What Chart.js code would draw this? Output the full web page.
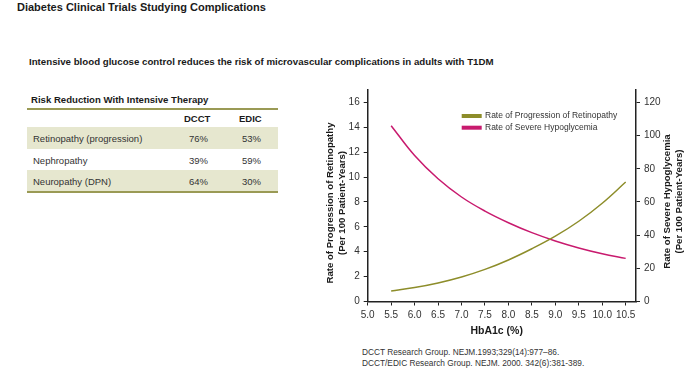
<!DOCTYPE html>
<html>
<head>
<meta charset="utf-8">
<script src="https://cdn.jsdelivr.net/npm/chart.js@4.4.0/dist/chart.umd.min.js"></script>
<style>
  body { margin: 0; width: 700px; height: 375px; background: #fff; position: relative; overflow: hidden;
         font-family: "Liberation Sans", Arial, sans-serif; color: #1a1a1a; }
  .title { position: absolute; left: 17px; top: 1px; font-size: 11px; font-weight: bold; }
  .subtitle { position: absolute; left: 29px; top: 56px; font-size: 9.7px; font-weight: bold; }
  .tbl-head { position: absolute; left: 31px; top: 94px; font-size: 9.6px; font-weight: bold; }
  .rule { position: absolute; left: 27px; width: 251px; height: 2px; background: #9a9a55; }
  .row { position: absolute; left: 27px; width: 251px; font-size: 9.5px; color: #333; }
  .row span { position: absolute; top: 0; }
  .shade { background: #e6e7cf; }
  .cite { position: absolute; left: 362px; font-size: 8.3px; color: #333; }
  #wrap { position: absolute; left: 310px; top: 80px; width: 390px; height: 265px; }
</style>
</head>
<body>
<div class="title">Diabetes Clinical Trials Studying Complications</div>
<div class="subtitle">Intensive blood glucose control reduces the risk of microvascular complications in adults with T1DM</div>
<div class="tbl-head">Risk Reduction With Intensive Therapy</div>
<div id="table"></div>
<div class="cite" style="top:347px">DCCT Research Group. NEJM.1993;329(14):977–86.</div>
<div class="cite" style="top:357.5px">DCCT/EDIC Research Group. NEJM. 2000. 342(6):381-389.</div>
<div id="wrap"><canvas id="chart" width="390" height="265"></canvas></div>
<script>
// table data
const outcomes = ['Retinopathy (progression)', 'Nephropathy', 'Neuropathy (DPN)'];
const dcct = ['76%', '39%', '64%'];
const edic = ['53%', '59%', '30%'];

// chart data
const hba1c = [5.5, 6.0, 6.5, 7.0, 7.5, 8.0, 8.5, 9.0, 9.5, 10.0, 10.5];
const retinopathy = [0.84, 1.12, 1.49, 1.97, 2.58, 3.34, 4.24, 5.25, 6.45, 7.9, 9.6];
const hypoglycemia = [106, 88, 74, 63, 54.5, 47.5, 41.5, 36.5, 32.3, 28.8, 26];
const xTicks = [5.0, 5.5, 6.0, 6.5, 7.0, 7.5, 8.0, 8.5, 9.0, 9.5, 10.0, 10.5];
const leftTicks = [0, 2, 4, 6, 8, 10, 12, 14, 16];
const rightTicks = [0, 20, 40, 60, 80, 100, 120];

// build the table
const table = document.getElementById('table');
let html = '<div class="rule" style="top:108px"></div>';
html += '<div class="row" style="top:113px;font-weight:bold;color:#1a1a1a">' +
        '<span style="left:157px">DCCT</span><span style="left:212px">EDIC</span></div>';
outcomes.forEach((name, i) => {
    const top = 127 + i * 21.5;
    html += '<div class="row' + (i % 2 === 0 ? ' shade' : '') + '" style="top:' + top + 'px;height:21.5px">' +
            '<span style="left:6px;top:6px">' + name + '</span>' +
            '<span style="left:162px;top:6px">' + dcct[i] + '</span>' +
            '<span style="left:215px;top:6px">' + edic[i] + '</span></div>';
});
html += '<div class="rule" style="top:191px"></div>';
table.innerHTML = html;

const olive = '#8d8d2a';
const magenta = '#c81a6e';
const axisColor = '#222';
const font = '"Liberation Sans", Arial, sans-serif';

// titles and legend drawn by hand
const extras = {
    id: 'extras',
    afterDraw(chart) {
        const ctx = chart.ctx;
        ctx.save();
        ctx.fillStyle = '#1a1a1a';
        ctx.textAlign = 'center';
        ctx.textBaseline = 'middle';
        ctx.font = 'bold 9.6px ' + font;

        // left axis title
        ctx.save();
        ctx.translate(20, 123);
        ctx.rotate(-Math.PI / 2);
        ctx.fillText('Rate of Progression of Retinopathy', 0, 0);
        ctx.fillText('(Per 100 Patient-Years)', 0, 12);
        ctx.restore();

        // right axis title (reads bottom to top too)
        ctx.save();
        ctx.translate(357, 121.5);
        ctx.rotate(-Math.PI / 2);
        ctx.fillText('Rate of Severe Hypoglycemia', 0, 0);
        ctx.fillText('(Per 100 Patient-Years)', 0, 12);
        ctx.restore();

        // x axis title
        ctx.font = 'bold 10.5px ' + font;
        ctx.fillText('HbA1c (%)', 186.7, 251);

        // legend
        ctx.textAlign = 'left';
        ctx.font = '8.5px ' + font;
        chart.data.datasets.forEach((ds, i) => {
            const y = 36 + i * 11.7;
            ctx.fillStyle = ds.borderColor;
            ctx.fillRect(151.7, y - 2, 20, 4);
            ctx.fillStyle = '#333';
            ctx.fillText(ds.label, 175, y);
        });
        ctx.restore();
    }
};

new Chart(document.getElementById('chart').getContext('2d'), {
    type: 'line',
    data: {
        labels: hba1c,
        datasets: [
            {
                label: 'Rate of Progression of Retinopathy',
                data: hba1c.map((x, i) => ({ x: x, y: retinopathy[i] })),
                borderColor: olive,
                borderWidth: 1.5,
                pointRadius: 0,
                tension: 0.4,
                yAxisID: 'y'
            },
            {
                label: 'Rate of Severe Hypoglycemia',
                data: hba1c.map((x, i) => ({ x: x, y: hypoglycemia[i] })),
                borderColor: magenta,
                borderWidth: 1.5,
                pointRadius: 0,
                tension: 0.4,
                yAxisID: 'y2'
            }
        ]
    },
    options: {
        responsive: false,
        animation: false,
        layout: { padding: { top: 8, left: 0, right: 0, bottom: 0 } },
        plugins: {
            legend: { display: false },
            tooltip: { enabled: false }
        },
        scales: {
            x: {
                type: 'linear',
                min: 5.0,
                max: 10.72,
                afterBuildTicks: scale => { scale.ticks = xTicks.map(v => ({ value: v })); },
                afterFit: scale => { scale.height = 43.5; },
                grid: { drawOnChartArea: false, drawTicks: true, tickLength: 4, color: axisColor },
                border: { color: axisColor, width: 1.5 },
                ticks: {
                    padding: 4,
                    maxRotation: 0,
                    color: '#333',
                    font: { family: font, size: 10 },
                    callback: v => v.toFixed(1)
                }
            },
            y: {
                position: 'left',
                min: 0,
                max: 17,
                afterBuildTicks: scale => { scale.ticks = leftTicks.map(v => ({ value: v })); },
                afterFit: scale => { scale.width = 57.7; },
                grid: { drawOnChartArea: false, drawTicks: true, tickLength: 4, color: axisColor },
                border: { color: axisColor, width: 1.5 },
                ticks: { padding: 4, color: '#333', font: { family: font, size: 10 } }
            },
            y2: {
                position: 'right',
                min: 0,
                max: 127.5,
                afterBuildTicks: scale => { scale.ticks = rightTicks.map(v => ({ value: v })); },
                afterFit: scale => { scale.width = 64; },
                grid: { drawOnChartArea: false, drawTicks: true, tickLength: 4, color: axisColor },
                border: { color: axisColor, width: 1.5 },
                ticks: { padding: 4, color: '#333', font: { family: font, size: 10 } }
            }
        }
    },
    plugins: [extras]
});
</script>
</body>
</html>
